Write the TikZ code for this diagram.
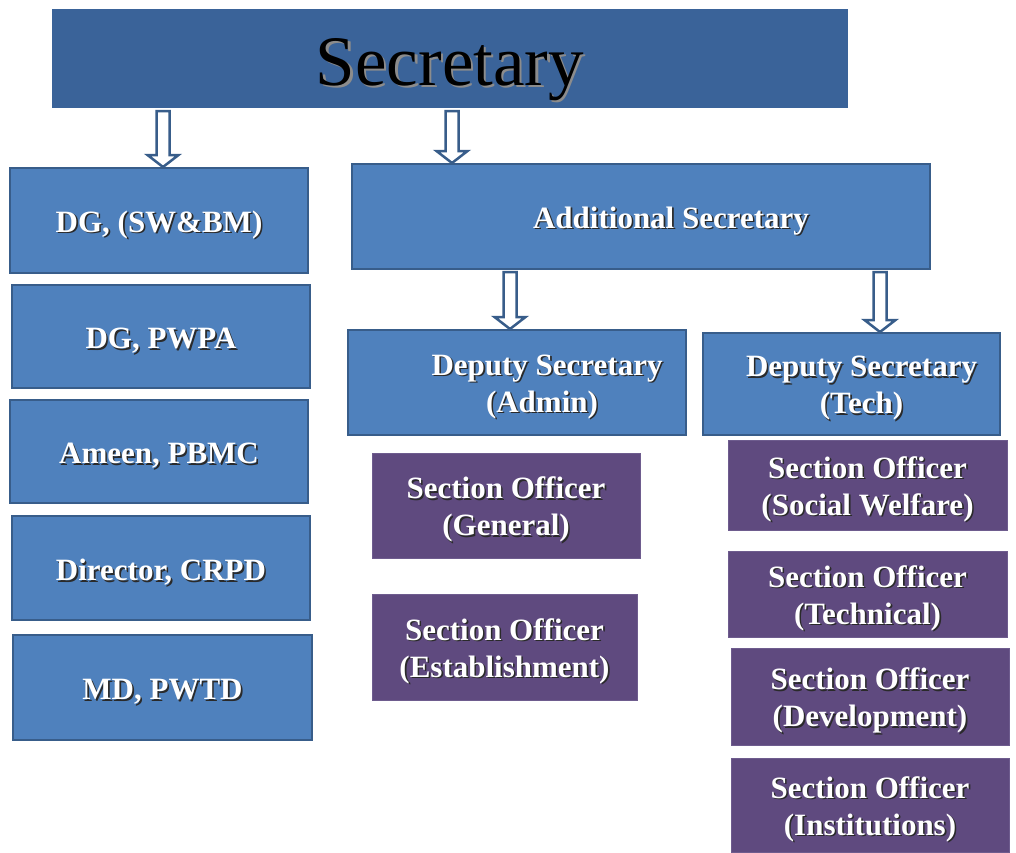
\documentclass[tikz,border=0pt]{standalone}
\usepackage{fontspec}
\setmainfont{Liberation Serif}
\usetikzlibrary{calc}

\definecolor{headblue}{HTML}{3A6399}
\definecolor{boxblue}{HTML}{4F81BD}
\definecolor{edgeblue}{HTML}{385D8A}
\definecolor{boxpurple}{HTML}{5F4A7F}
\definecolor{edgepurple}{HTML}{6E5C8E}
\definecolor{txtshadow}{HTML}{2A2A2A}

% white label with a small dark drop shadow, set a little below the box centre
\newcommand\sh[1]{\raisebox{-5pt}[\height][\depth]{\rlap{\kern1.6pt\raisebox{-1.6pt}{\textcolor{txtshadow}{#1}}}#1}}
% large title with a soft grey shadow
\newcommand\bigsh[1]{\raisebox{-12pt}[\height][\depth]{\rlap{\kern2.2pt\raisebox{-2.2pt}{\textcolor{black!45}{#1}}}#1}}

% hollow block arrow from the first point down to the second
\newcommand\blockarrow[2]{%
  \draw[barrow] let \p1=(#1), \p2=(#2) in
    (\x1-6.5pt,\y1-3pt) -- (\x1-6.5pt,\y2+13pt) -- (\x1-15.5pt,\y2+13pt) --
    (\x1,\y2+1pt) -- (\x1+15.5pt,\y2+13pt) -- (\x1+6.5pt,\y2+13pt) --
    (\x1+6.5pt,\y1-3pt) -- cycle;}

\tikzset{
  orgbox/.style={rectangle, inner sep=0pt, outer sep=0pt, text=white,
    align=center, font=\bfseries\fontsize{31}{37}\selectfont},
  bluebox/.style={orgbox, draw=edgeblue, line width=2.5pt, fill=boxblue},
  purplebox/.style={orgbox, draw=edgepurple, line width=0.8pt, fill=boxpurple},
  barrow/.style={draw=edgeblue, fill=white, line width=2.5pt, line join=miter},
}

\begin{document}
\begin{tikzpicture}[x=1pt, y=-1pt]
  \useasboundingbox (0,0) rectangle (1016,852);
  \fill[white] (0,0) rectangle (1016,852);

  % head of the department
  \node[rectangle, fill=headblue, minimum width=796pt, minimum height=99pt,
        inner sep=0pt, outer sep=0pt,
        font=\fontsize{71}{80}\selectfont] (sec) at (450,58.5)
        {\bigsh{Secretary}};

  % attached departments
  \node[bluebox, minimum width=298pt, minimum height=105pt] (dg1) at (159,220.5) {\sh{DG, (SW\&BM)}};
  \node[bluebox, minimum width=298pt, minimum height=103pt] (dg2) at (161,336.5) {\sh{DG, PWPA}};
  \node[bluebox, minimum width=298pt, minimum height=103pt] (ameen) at (159,451.5) {\sh{Ameen, PBMC}};
  \node[bluebox, minimum width=298pt, minimum height=104pt] (crpd) at (161,568) {\sh{Director, CRPD}};
  \node[bluebox, minimum width=299pt, minimum height=105pt] (pwtd) at (162.5,687.5) {\sh{MD, PWTD}};

  % secretariat
  \node[bluebox, minimum width=578pt, minimum height=105pt] (addsec) at (641,216.5)
        {\sh{\hspace*{60pt}Additional Secretary}};
  \node[bluebox, minimum width=338pt, minimum height=105pt] (dsa) at (517,382.5)
        {\sh{\hspace*{60pt}Deputy Secretary}\\\sh{\hspace*{50pt}(Admin)}};
  \node[bluebox, minimum width=297pt, minimum height=102pt] (dst) at (851.5,384)
        {\sh{\hspace*{20pt}Deputy Secretary}\\\sh{\hspace*{20pt}(Tech)}};

  % sections under the admin wing
  \node[purplebox, minimum width=268pt, minimum height=105pt] (sog) at (506,505.5)
        {\sh{Section Officer}\\\sh{(General)}};
  \node[purplebox, minimum width=265pt, minimum height=106pt] (soe) at (504.5,647)
        {\sh{Section Officer}\\\sh{(Establishment)}};

  % sections under the technical wing
  \node[purplebox, minimum width=279pt, minimum height=90pt] (sosw) at (867.5,485)
        {\sh{Section Officer}\\\sh{(Social Welfare)}};
  \node[purplebox, minimum width=279pt, minimum height=86pt] (sot) at (867.5,594)
        {\sh{Section Officer}\\\sh{(Technical)}};
  \node[purplebox, minimum width=278pt, minimum height=97pt] (sod) at (870,696.5)
        {\sh{Section Officer}\\\sh{(Development)}};
  \node[purplebox, minimum width=278pt, minimum height=94pt] (soi) at (870,805)
        {\sh{Section Officer}\\\sh{(Institutions)}};

  % arrow positions
  \coordinate (c1) at (163,0);
  \coordinate (c2) at (452,0);
  \coordinate (c3) at (510,0);
  \coordinate (c4) at (880,0);

  \blockarrow{c1 |- sec.south}{c1 |- dg1.north}
  \blockarrow{c2 |- sec.south}{c2 |- addsec.north}
  \blockarrow{c3 |- addsec.south}{c3 |- dsa.north}
  \blockarrow{c4 |- addsec.south}{c4 |- dst.north}
\end{tikzpicture}
\end{document}
